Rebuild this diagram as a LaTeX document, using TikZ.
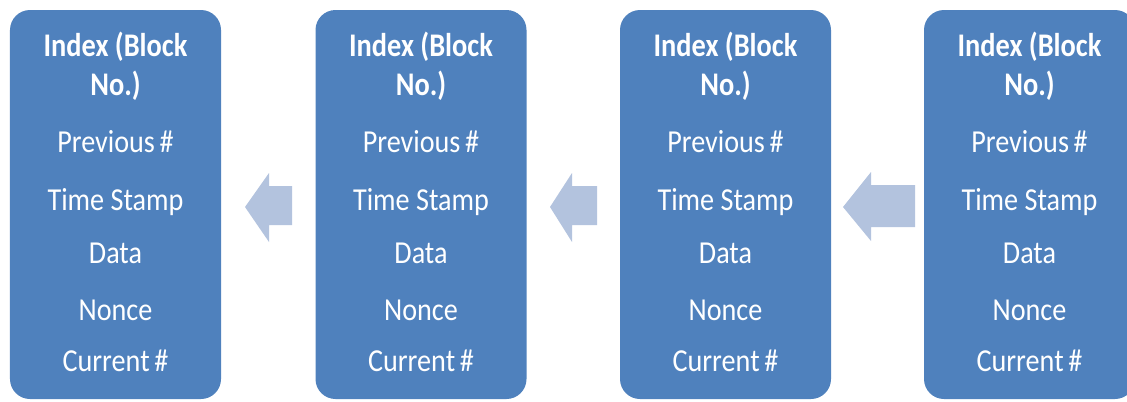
\documentclass[tikz,border=0pt]{standalone}
\usepackage{fontspec}
\setmainfont{Carlito}
\definecolor{blkblue}{HTML}{4F81BD}
\definecolor{arrblue}{HTML}{B3C3DE}
\tikzset{
  blk/.style={fill=blkblue, draw=none, rounded corners=20bp, minimum width=211bp, minimum height=389bp, inner sep=0pt},
  arr/.style={fill=arrblue, draw=none},
  ttl/.style={text=white, anchor=base, inner sep=0pt, font=\fontsize{33bp}{38bp}\selectfont\bfseries},
  fld/.style={text=white, anchor=base, inner sep=0pt, font=\fontsize{32bp}{38bp}\selectfont},
}
\newcommand{\sq}[2]{\scalebox{#1}[1]{#2}}
\begin{document}
\begin{tikzpicture}[x=1bp,y=-1bp]
\useasboundingbox (0,0) rectangle (1127,401);
\clip (0,0) rectangle (1127,401);
\foreach \i/\cx in {1/115.5, 2/421, 3/725.5, 4/1029.5}{
  \node[blk] (b\i) at (\cx,204.5) {};
  \node[ttl] (t\i a) at (\cx,56) {\sq{0.86}{Index (Block}};
  \node[ttl] (t\i b) at (\cx,95) {\sq{0.86}{No.)}};
  \node[fld] (p\i) at (\cx,152) {\sq{0.88}{Previous\,\#}};
  \node[fld] (s\i) at (\cx,210) {\sq{0.88}{Time Stamp}};
  \node[fld] (d\i) at (\cx,263) {\sq{0.88}{Data}};
  \node[fld] (n\i) at (\cx,320) {\sq{0.88}{Nonce}};
  \node[fld] (c\i) at (\cx,371) {\sq{0.88}{Current\,\#}};
}
% block arrows
\fill[arr] (292,186) -- (269,186) -- (269,173) -- (245,207) -- (269,242) -- (269,225) -- (292,225) -- cycle;
\fill[arr] (597,186) -- (572,186) -- (572,173) -- (550,207) -- (572,242) -- (572,225) -- (597,225) -- cycle;
\fill[arr] (915,185) -- (871,185) -- (871,172) -- (843,207) -- (871,241) -- (871,227) -- (915,227) -- cycle;
\end{tikzpicture}
\end{document}
